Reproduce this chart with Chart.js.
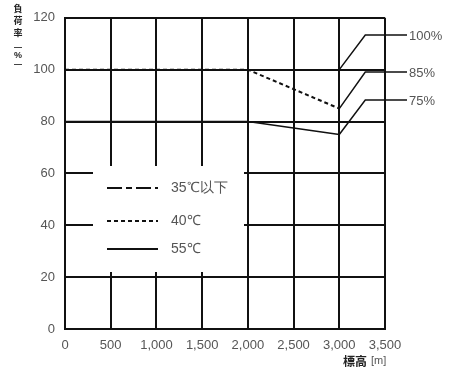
<!DOCTYPE html>
<html>
<head>
<meta charset="utf-8">
<script src="https://cdn.jsdelivr.net/npm/chart.js@4"></script>
<style>
  html, body { margin: 0; padding: 0; background: #fff; }
  #wrap { width: 451px; height: 372px; }
</style>
</head>
<body>
<div id="wrap"><canvas id="chart" width="451" height="372"></canvas></div>
<script>
// data
const altitudes = [0, 2000, 3000];
const temp35 = [100, 100, 100];
const temp40 = [100, 100, 85];
const temp55 = [80, 80, 75];
const seriesLabels = ["35\u2103以下", "40\u2103", "55\u2103"];
const calloutValues = [100, 85, 75];
const calloutLabels = ["100%", "85%", "75%"];
const calloutAt = 3000;
const xTicks = [0, 500, 1000, 1500, 2000, 2500, 3000, 3500];
const yTicks = [0, 20, 40, 60, 80, 100, 120];

const toPoints = (ys) => altitudes.map((x, i) => ({ x: x, y: ys[i] }));
const INK = "#111";
const TEXT = "#555";
const FONT = "Liberation Sans, Arial, sans-serif";

// legend box drawn inside the plot, over the grid
const innerLegend = {
    id: "innerLegend",
    afterDatasetsDraw: (chart) => {
        const ctx = chart.ctx;
        ctx.save();
        ctx.fillStyle = "#fff";
        ctx.fillRect(93, 166, 151, 106);
        const rows = [188, 221, 249];
        chart.data.datasets.forEach((ds, i) => {
            ctx.strokeStyle = INK;
            ctx.lineWidth = 2;
            ctx.setLineDash(ds.borderDash || []);
            ctx.beginPath();
            ctx.moveTo(107, rows[i]);
            ctx.lineTo(158, rows[i]);
            ctx.stroke();
            ctx.setLineDash([]);
            ctx.fillStyle = TEXT;
            ctx.font = "14px " + FONT;
            ctx.textBaseline = "middle";
            ctx.fillText(ds.label, 171, rows[i]);
        });
        ctx.restore();
    }
};

// callouts + axis titles
const extras = {
    id: "extras",
    afterDraw: (chart) => {
        const ctx = chart.ctx;
        const xs = chart.scales.x;
        const ys = chart.scales.y;
        ctx.save();
        const rowsY = [35, 72, 100];
        calloutValues.forEach((v, i) => {
            const px = xs.getPixelForValue(calloutAt);
            const py = ys.getPixelForValue(v);
            ctx.strokeStyle = INK;
            ctx.lineWidth = 1.5;
            ctx.beginPath();
            ctx.moveTo(px, py);
            ctx.lineTo(px + 26, rowsY[i]);
            ctx.lineTo(407, rowsY[i]);
            ctx.stroke();
            ctx.fillStyle = TEXT;
            ctx.font = "13px " + FONT;
            ctx.textBaseline = "middle";
            ctx.fillText(calloutLabels[i], 409, rowsY[i] + 1);
        });

        // y title, stacked vertically
        ctx.fillStyle = "#222";
        ctx.textAlign = "center";
        ctx.textBaseline = "middle";
        ctx.font = "bold 9px 'Noto Sans CJK JP'";
        ["負", "荷", "率"].forEach((c, i) => ctx.fillText(c, 18, 9 + i * 12));
        ctx.font = "bold 9px " + FONT;
        ctx.fillText("%", 18, 56);
        ctx.strokeStyle = "#444";
        ctx.lineWidth = 1;
        ctx.beginPath();
        ctx.moveTo(14, 47.5); ctx.lineTo(22, 47.5);
        ctx.moveTo(14, 64.5); ctx.lineTo(22, 64.5);
        ctx.stroke();

        // x title
        ctx.textAlign = "left";
        ctx.fillStyle = "#222";
        ctx.font = "bold 12px 'Noto Sans CJK JP'";
        ctx.fillText("標高", 343, 361);
        ctx.fillStyle = TEXT;
        ctx.font = "11px " + FONT;
        ctx.fillText("[m]", 371, 361);
        ctx.restore();
    }
};

new Chart(document.getElementById("chart"), {
    type: "line",
    data: {
        datasets: [{
            label: seriesLabels[0],
            data: toPoints(temp35),
            borderColor: INK,
            borderWidth: 1.5,
            borderDash: [15, 4, 6, 4],
            pointRadius: 0,
            tension: 0
        }, {
            label: seriesLabels[1],
            data: toPoints(temp40),
            borderColor: INK,
            borderWidth: 2,
            borderDash: [4, 3],
            pointRadius: 0,
            tension: 0
        }, {
            label: seriesLabels[2],
            data: toPoints(temp55),
            borderColor: INK,
            borderWidth: 1.5,
            pointRadius: 0,
            tension: 0
        }]
    },
    options: {
        responsive: false,
        animation: false,
        layout: { padding: { top: 10, right: 66, left: 0, bottom: 0 } },
        plugins: {
            legend: { display: false },
            tooltip: { enabled: false }
        },
        scales: {
            x: {
                type: "linear",
                min: 0,
                max: 3500,
                afterBuildTicks: (s) => { s.ticks = xTicks.map(v => ({ value: v })); },
                afterFit: (s) => { s.height = 43; },
                grid: { color: INK, lineWidth: 2, drawTicks: false },
                border: { color: INK, width: 2 },
                ticks: {
                    padding: 9,
                    color: TEXT,
                    font: { family: FONT, size: 13 },
                    maxRotation: 0,
                    autoSkip: false,
                    callback: (v) => v.toLocaleString("en-US")
                }
            },
            y: {
                min: 0,
                max: 120,
                afterBuildTicks: (s) => { s.ticks = yTicks.map(v => ({ value: v })); },
                afterFit: (s) => { s.width = 65; },
                grid: { color: INK, lineWidth: 2, drawTicks: false },
                border: { color: INK, width: 2 },
                ticks: {
                    padding: 10,
                    color: TEXT,
                    font: { family: FONT, size: 13 }
                }
            }
        }
    },
    plugins: [innerLegend, extras]
});
</script>
</body>
</html>
